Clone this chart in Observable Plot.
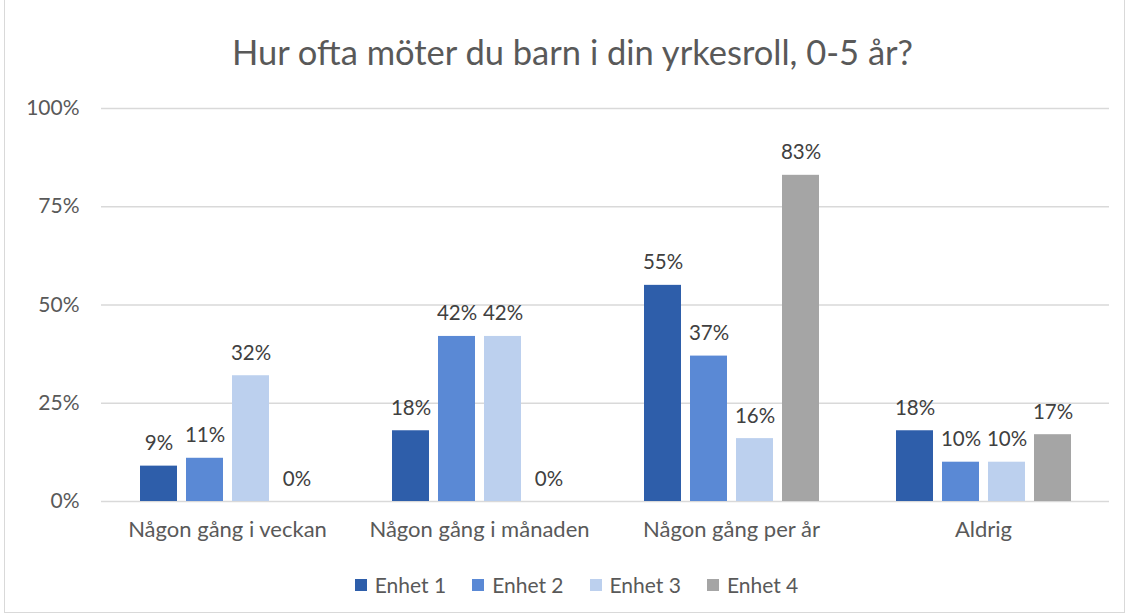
<!DOCTYPE html>
<html><head><meta charset="utf-8">
<script src="https://cdn.jsdelivr.net/npm/d3@7"></script>
<script src="https://cdn.jsdelivr.net/npm/@observablehq/plot@0.6"></script>
<style>
html,body{margin:0;padding:0;background:#fff;}
body{width:1129px;height:616px;position:relative;overflow:hidden;font-family:Lato,"Open Sans",sans-serif;color:#595959;}
#frame{position:absolute;left:4px;top:-1px;width:1121px;height:614px;border:1px solid #d9d9d9;box-sizing:border-box;}
#title{position:absolute;left:8px;top:29px;width:1129px;text-align:center;font-size:34.5px;line-height:46px;color:#595959;}
#plot{position:absolute;left:0;top:90px;}
#legend{position:absolute;left:12px;top:572px;width:1129px;display:flex;justify-content:center;gap:26px;font-size:21px;line-height:26px;}
#legend span.item{display:flex;align-items:center;}
#legend span.sw{display:inline-block;width:12px;height:12px;margin-right:8px;}
</style></head>
<body>
<div id="frame"></div>
<div id="title">Hur ofta möter du barn i din yrkesroll, 0-5 år?</div>
<div id="plot"></div>
<div id="legend"></div>
<script>
const categories = ["Någon gång i veckan", "Någon gång i månaden", "Någon gång per år", "Aldrig"];
const series = ["Enhet 1", "Enhet 2", "Enhet 3", "Enhet 4"];
const enhet1 = [9, 18, 55, 18];
const enhet2 = [11, 42, 37, 10];
const enhet3 = [32, 42, 16, 10];
const enhet4 = [0, 0, 83, 17];
const colors = ["#2E5EAA", "#5A89D5", "#BCD0EE", "#A5A5A5"];
const yTicks = [0, 25, 50, 75, 100];

const seriesValues = [enhet1, enhet2, enhet3, enhet4];
const data = [];
categories.forEach((c, i) => series.forEach((s, j) => data.push({cat: c, series: s, value: seriesValues[j][i]})));

const chart = Plot.plot({
  width: 1129,
  height: 470,
  marginLeft: 99,
  marginRight: 19,
  marginTop: 18,
  marginBottom: 59,
  style: {fontFamily: "Lato, 'Open Sans', sans-serif", color: "#595959", background: "transparent"},
  fx: {domain: categories, padding: 0, label: null},
  x: {domain: series, paddingInner: 0.2, paddingOuter: 0.82, axis: null},
  y: {domain: [0, 100], label: null},
  color: {domain: series, range: colors},
  marks: [
    Plot.ruleY(yTicks, {stroke: "#d9d9d9", strokeWidth: 1.3}),
    Plot.barY(data, {fx: "cat", x: "series", y: "value", fill: "series"}),
    Plot.text(data, {fx: "cat", x: "series", y: "value", text: d => d.value + "%", lineAnchor: "bottom", dy: -16, fontSize: 20.5, fill: "#404040"}),
    Plot.axisY({ticks: yTicks, tickFormat: d => d + "%", tickSize: 0, tickPadding: 22, fontSize: 21, label: null}),
    Plot.axisFx({anchor: "bottom", tickSize: 0, tickPadding: 20, fontSize: 22, label: null})
  ]
});
document.getElementById("plot").appendChild(chart);

const legend = document.getElementById("legend");
series.forEach((s, j) => {
  const item = document.createElement("span");
  item.className = "item";
  const sw = document.createElement("span");
  sw.className = "sw";
  sw.style.background = colors[j];
  item.appendChild(sw);
  item.appendChild(document.createTextNode(s));
  legend.appendChild(item);
});
</script>
</body></html>
